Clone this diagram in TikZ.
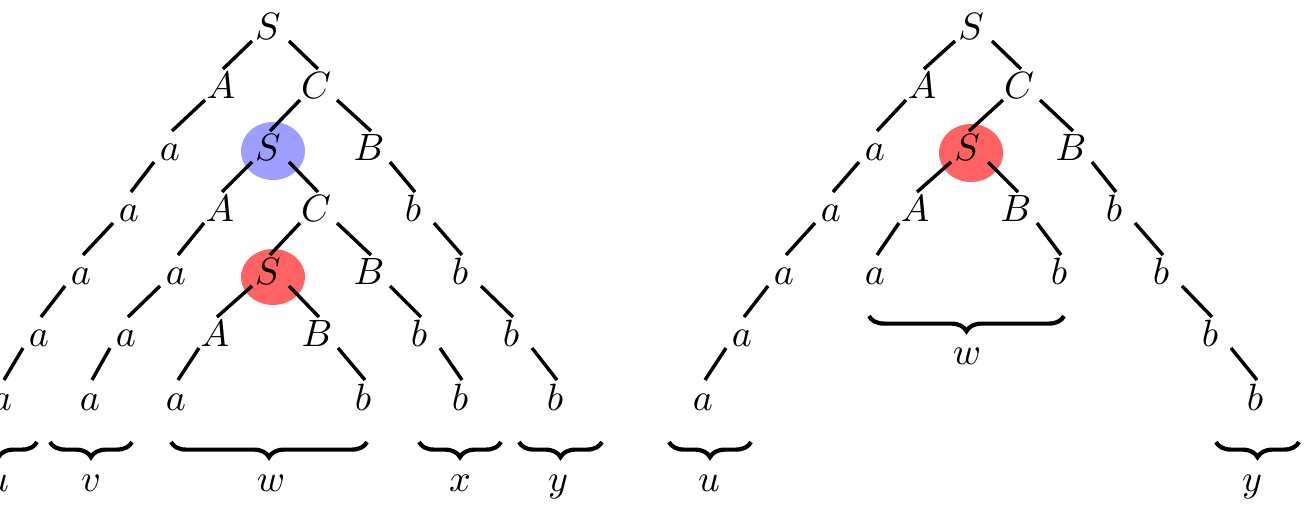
\documentclass[tikz,border=0pt]{standalone}
\usetikzlibrary{calc,decorations.pathreplacing}
\definecolor{cblue}{RGB}{158,158,255}
\definecolor{cred}{RGB}{255,98,98}
\tikzset{
  sym/.style={anchor=base, inner sep=0pt},
  branch/.style={line width=0.9pt},
  ubrace/.style={decorate, decoration={brace, mirror, amplitude=4pt}, line width=1.1pt},
  blab/.style={anchor=base, inner sep=0pt},
}
\newcommand\brL[2]{\draw[branch] ($(#1.base)+(-16,1)$) -- ($(#2.base)+(2,-30)$);}
\newcommand\brR[2]{\draw[branch] ($(#1.base)+(21,1)$) -- ($(#2.base)+(2,-30)$);}
\begin{document}
\begin{tikzpicture}[x=0.263pt,y=-0.263pt]
\path[use as bounding box, clip] (0,0) rectangle (1313,511);
% highlights
\fill[cblue] (273,151) ellipse [x radius=32, y radius=29];
\fill[cred] (273,277) ellipse [x radius=32, y radius=28];
\fill[cred] (971,153) ellipse [x radius=32, y radius=29];
% ---------- left tree ----------
\node[sym] (L0) at (268,40) {$S$};
\node[sym] (L1a) at (221,99) {$A$};
\node[sym] (L1c) at (316,99) {$C$};
\node[sym] (L2a) at (170,161) {$a$};
\node[sym] (L2s) at (268,161) {$S$};
\node[sym] (L2b) at (369,161) {$B$};
\node[sym] (L3a) at (129,222) {$a$};
\node[sym] (L3A) at (220,222) {$A$};
\node[sym] (L3C) at (316,222) {$C$};
\node[sym] (L3b) at (413,222) {$b$};
\node[sym] (L4a) at (81,285) {$a$};
\node[sym] (L4a2) at (176,285) {$a$};
\node[sym] (L4s) at (268,285) {$S$};
\node[sym] (L4B) at (369,285) {$B$};
\node[sym] (L4b) at (460,285) {$b$};
\node[sym] (L5a) at (39,347) {$a$};
\node[sym] (L5a2) at (126,347) {$a$};
\node[sym] (L5A) at (215,347) {$A$};
\node[sym] (L5B) at (317,347) {$B$};
\node[sym] (L5b) at (419,347) {$b$};
\node[sym] (L5b2) at (511,347) {$b$};
\node[sym] (L6a) at (2,410) {$a$};
\node[sym] (L6a2) at (90,410) {$a$};
\node[sym] (L6a3) at (176,410) {$a$};
\node[sym] (L6b) at (363,410) {$b$};
\node[sym] (L6b2) at (460,410) {$b$};
\node[sym] (L6b3) at (555,410) {$b$};
\brL{L0}{L1a} \brR{L0}{L1c}
\brL{L1a}{L2a} \brL{L2a}{L3a} \brL{L3a}{L4a} \brL{L4a}{L5a} \brL{L5a}{L6a}
\brL{L1c}{L2s} \brR{L1c}{L2b}
\brL{L2s}{L3A} \brR{L2s}{L3C}
\brL{L3A}{L4a2} \brL{L4a2}{L5a2} \brL{L5a2}{L6a2}
\brL{L3C}{L4s} \brR{L3C}{L4B}
\brL{L4s}{L5A} \brR{L4s}{L5B}
\brL{L5A}{L6a3} \brR{L5B}{L6b}
\brR{L2b}{L3b} \brR{L3b}{L4b} \brR{L4b}{L5b2} \brR{L5b2}{L6b3}
\brR{L4B}{L5b} \brR{L5b}{L6b2}
% left braces
\coordinate (bu1) at (-40,442); \coordinate (bu2) at (37,442);
\coordinate (bv1) at (50,442);  \coordinate (bv2) at (132,442);
\coordinate (bw1) at (171,442); \coordinate (bw2) at (367,442);
\coordinate (bx1) at (419,442); \coordinate (bx2) at (501,442);
\coordinate (by1) at (519,442); \coordinate (by2) at (602,442);
\draw[ubrace] (bu1) -- (bu2);
\draw[ubrace] (bv1) -- (bv2);
\draw[ubrace] (bw1) -- (bw2);
\draw[ubrace] (bx1) -- (bx2);
\draw[ubrace] (by1) -- (by2);
\node[blab] (lu) at (-2,491) {$u$};
\node[blab] (lv) at (91,491) {$v$};
\node[blab] (lw) at (271,491) {$w$};
\node[blab] (lx) at (460,491) {$x$};
\node[blab] (ly) at (558,491) {$y$};
% ---------- right tree ----------
\node[sym] (R0) at (971,40) {$S$};
\node[sym] (R1a) at (922,99) {$A$};
\node[sym] (R1c) at (1019,99) {$C$};
\node[sym] (R2a) at (875,161) {$a$};
\node[sym] (R2s) at (967,161) {$S$};
\node[sym] (R2b) at (1071,161) {$B$};
\node[sym] (R3a) at (831,222) {$a$};
\node[sym] (R3A) at (915,222) {$A$};
\node[sym] (R3B) at (1016,222) {$B$};
\node[sym] (R3b) at (1114,222) {$b$};
\node[sym] (R4a) at (784,285) {$a$};
\node[sym] (R4a2) at (875,285) {$a$};
\node[sym] (R4b) at (1059,285) {$b$};
\node[sym] (R4b2) at (1161,285) {$b$};
\node[sym] (R5a) at (742,347) {$a$};
\node[sym] (R5b) at (1210,347) {$b$};
\node[sym] (R6a) at (703,410) {$a$};
\node[sym] (R6b) at (1255,410) {$b$};
\brL{R0}{R1a} \brR{R0}{R1c}
\brL{R1a}{R2a} \brL{R2a}{R3a} \brL{R3a}{R4a} \brL{R4a}{R5a} \brL{R5a}{R6a}
\brL{R1c}{R2s} \brR{R1c}{R2b}
\brL{R2s}{R3A} \brR{R2s}{R3B}
\brL{R3A}{R4a2} \brR{R3B}{R4b}
\brR{R2b}{R3b} \brR{R3b}{R4b2} \brR{R4b2}{R5b} \brR{R5b}{R6b}
% right braces
\coordinate (ru1) at (669,442);  \coordinate (ru2) at (751,442);
\coordinate (ry1) at (1216,442); \coordinate (ry2) at (1299,442);
\coordinate (rw1) at (869,316);  \coordinate (rw2) at (1064,316);
\draw[ubrace] (ru1) -- (ru2);
\draw[ubrace] (ry1) -- (ry2);
\draw[ubrace] (rw1) -- (rw2);
\node[blab] (ru) at (709,491) {$u$};
\node[blab] (ry) at (1252,491) {$y$};
\node[blab] (rw) at (967,364) {$w$};
\end{tikzpicture}
\end{document}
